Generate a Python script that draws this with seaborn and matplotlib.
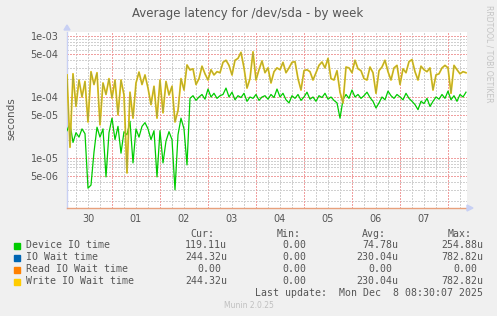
import numpy as np
import pandas as pd
import matplotlib
matplotlib.use("Agg")
import matplotlib.pyplot as plt
import seaborn as sns
from matplotlib.patches import Rectangle

# ---------------- data (microseconds, one sample every 1.5 h) ----------------
device_io_us = [
    28, 37, 18, 26, 22, 30, 25, 3.2, 3.6, 12.5,
    32, 22, 30, 4.9, 26, 45, 20, 33, 12, 27,
    24, 40, 8.3, 30, 22, 33, 38, 30, 20, 28,
    4.9, 28, 8.3, 19, 27, 20, 3.0, 24, 45, 30,
    7.7,
    95, 105, 88, 100, 110, 92, 135, 100, 115, 95,
    105, 110, 140, 100, 120, 90, 105, 98, 115, 85,
    100, 95, 110, 88, 100, 105, 92, 110, 98, 135,
    100, 115, 90, 80, 105, 95, 110, 88, 100, 120,
    92, 100, 85, 105, 98, 115, 92, 100, 88, 80,
    45, 90, 110, 95, 130, 100, 110, 95, 105, 120,
    98, 85, 66, 80, 100, 90, 125, 105, 95, 110,
    100, 90, 115, 95, 85, 75, 62, 85, 78, 95,
    70, 85, 100, 92, 110, 95, 125, 90, 105, 85,
    110, 100, 120,
]
write_wait_us = [
    230, 15, 240, 70, 190, 100, 180, 39, 260, 160,
    250, 35, 170, 110, 200, 96, 190, 51, 190, 108,
    5.7, 120, 45, 170, 256, 160, 230, 140, 75, 150,
    45, 190, 55, 180, 108, 150, 39, 60, 200, 130,
    335,
    277, 290, 160, 200, 320, 240, 190, 280, 230, 260,
    250, 370, 400, 330, 230, 400, 430, 540, 300, 140,
    200, 550, 190, 280, 390, 250, 300, 170, 260, 300,
    280, 370, 250, 300, 370, 380, 200, 130, 270, 280,
    260, 190, 250, 330, 375, 300, 430, 200, 190, 270,
    120, 80, 310, 300, 250, 400, 290, 270, 200, 190,
    310, 250, 115, 270, 310, 400, 260, 190, 300, 330,
    160, 290, 250, 380, 410, 260, 190, 320, 280, 260,
    300, 130, 230, 240, 300, 330, 300, 115, 330, 280,
    240, 260, 250,
]
io_wait_us = list(write_wait_us)            # identical to write wait
read_wait_us = [0.0] * len(write_wait_us)   # all zero

day_labels = ["30", "01", "02", "03", "04", "05", "06", "07"]
legend_names = ["Device IO time", "IO Wait time", "Read IO Wait time", "Write IO Wait time"]
cur_vals = ["119.11u", "244.32u", "0.00", "244.32u"]
min_vals = ["0.00", "0.00", "0.00", "0.00"]
avg_vals = ["74.78u", "230.04u", "0.00", "230.04u"]
max_vals = ["254.88u", "782.82u", "0.00", "782.82u"]
colors = ["#00CC00", "#0066B3", "#FF8000", "#FFCC00"]

# ---------------- frame ----------------
n = len(write_wait_us)
hours = -22.5 + 1.5 * np.arange(n)   # hours since Dec 1 00:00
df = pd.DataFrame({
    "hours": hours,
    "device": np.array(device_io_us) * 1e-6,
    "iowait": np.array(io_wait_us) * 1e-6,
    "read": np.where(np.array(read_wait_us) > 0, np.array(read_wait_us) * 1e-6, np.nan),
    "write": np.array(write_wait_us) * 1e-6,
})

W, H = 497, 316
fig = plt.figure(figsize=(W / 100, H / 100), dpi=100, facecolor="#f0f0f0")
ax = fig.add_axes([67 / W, 1 - 208 / H, 400 / W, 176 / H])
ax.set_facecolor("white")

txt = "#555555"

# grid
red = "#f0a0a0"
gray = "#d0d0d0"
dot = (0, (1.44, 1.44))
for h in np.arange(-18, 178, 6):
    if h % 24 == 0:
        ax.axvline(h, color=red, lw=0.72, ls=dot, zorder=1, antialiased=False)
    else:
        ax.axvline(h, color=gray, lw=0.72, ls=dot, zorder=0.9, antialiased=False)
for e in range(-6, -2):
    for k in range(1, 10):
        v = k * 10.0 ** e
        if k in (1, 5):
            ax.axhline(v, color=red, lw=0.72, ls=dot, zorder=1, antialiased=False)
        else:
            ax.axhline(v, color=gray, lw=0.72, ls=dot, zorder=0.9, antialiased=False)

# series
sns.lineplot(data=df, x="hours", y="device", color=colors[0], lw=0.9, ax=ax,
             estimator=None, zorder=3)
sns.lineplot(data=df, x="hours", y="write", color=colors[3], lw=1.3, ax=ax,
             estimator=None, zorder=3)
sns.lineplot(data=df, x="hours", y="iowait", color=colors[1], lw=0.7, alpha=0.35,
             ax=ax, estimator=None, zorder=4)
sns.lineplot(data=df, x="hours", y="read", color=colors[2], lw=1.0, ax=ax,
             estimator=None, zorder=4)

ax.set_yscale("log")
ax.set_xlim(-22.5, 177.5)
ax.set_ylim(10 ** (-3 - 172 / 61), 10 ** (-3 + 4 / 61))

ax.set_xticks([12 + 24 * i for i in range(-1, 7)])
ax.set_xticklabels(day_labels)
yt = [1e-3, 5e-4, 1e-4, 5e-5, 1e-5, 5e-6]
ax.set_yticks(yt)
ax.set_yticklabels(["1e-03", "5e-04", "1e-04", "5e-05", "1e-05", "5e-06"])
ax.yaxis.set_minor_locator(matplotlib.ticker.NullLocator())
ax.tick_params(axis="both", length=0, labelsize=7, colors=txt)
ax.tick_params(axis="x", pad=4)
ax.tick_params(axis="y", pad=6)
ax.set_xlabel("")
ax.set_ylabel("")

for s in ("top", "right"):
    ax.spines[s].set_visible(False)
ax.spines["left"].set_color("#c8d0f4")
ax.spines["bottom"].set_color("#e8a07c")
ax.spines["left"].set_linewidth(1.0)
ax.spines["bottom"].set_linewidth(1.0)

# axis arrows
fig.add_artist(matplotlib.patches.Polygon(
    [[64 / W, 1 - 30 / H], [70 / W, 1 - 30 / H], [67 / W, 1 - 25 / H]],
    closed=True, transform=fig.transFigure, color="#c8d0f4"))
fig.add_artist(matplotlib.patches.Polygon(
    [[467 / W, 1 - 205 / H], [467 / W, 1 - 211 / H], [473 / W, 1 - 208 / H]],
    closed=True, transform=fig.transFigure, color="#c8d0f4"))

# titles
fig.text(248 / W, 1 - 13 / H, "Average latency for /dev/sda - by week",
         ha="center", va="center", fontsize=8.5, color=txt)
fig.text(11 / W, 1 - 119 / H, "seconds", rotation=90, ha="center", va="center",
         fontsize=7.5, color=txt)
fig.text(489 / W, 1 - 5 / H, "RRDTOOL / TOBI OETIKER", rotation=270, ha="center",
         va="top", fontsize=5.5, color="#c4c4c4")

# legend table
mono = "DejaVu Sans Mono"
fs = 7.1
hy = 234
for label, x in (("Cur:", 190.7), ("Min:", 276.7), ("Avg:", 361.7), ("Max:", 447.7)):
    fig.text(x / W, 1 - hy / H, label, ha="left", va="center", family=mono,
             fontsize=fs, color=txt)
rows = [245.5, 257.5, 269.5, 281.5]
for i, y in enumerate(rows):
    fig.add_artist(Rectangle((14 / W, 1 - (y + 3) / H), 6 / W, 6 / H,
                             transform=fig.transFigure, color=colors[i]))
    fig.text(26 / W, 1 - y / H, legend_names[i], ha="left", va="center",
             family=mono, fontsize=fs, color=txt)
    for vals, right in ((cur_vals, 227), (min_vals, 312), (avg_vals, 398), (max_vals, 483)):
        v = vals[i]
        r = right if v.endswith("u") else right - 6
        fig.text(r / W, 1 - y / H, v, ha="right", va="center", family=mono,
                 fontsize=fs, color=txt)
fig.text(483 / W, 1 - 293.5 / H, "Last update:  Mon Dec  8 08:30:07 2025",
         ha="right", va="center", family=mono, fontsize=fs, color=txt)
fig.text(249 / W, 1 - 305 / H, "Munin 2.0.25", ha="center", va="center",
         fontsize=5.5, color="#c0c0c0")

fig.savefig("out.png", dpi=100, facecolor=fig.get_facecolor())
